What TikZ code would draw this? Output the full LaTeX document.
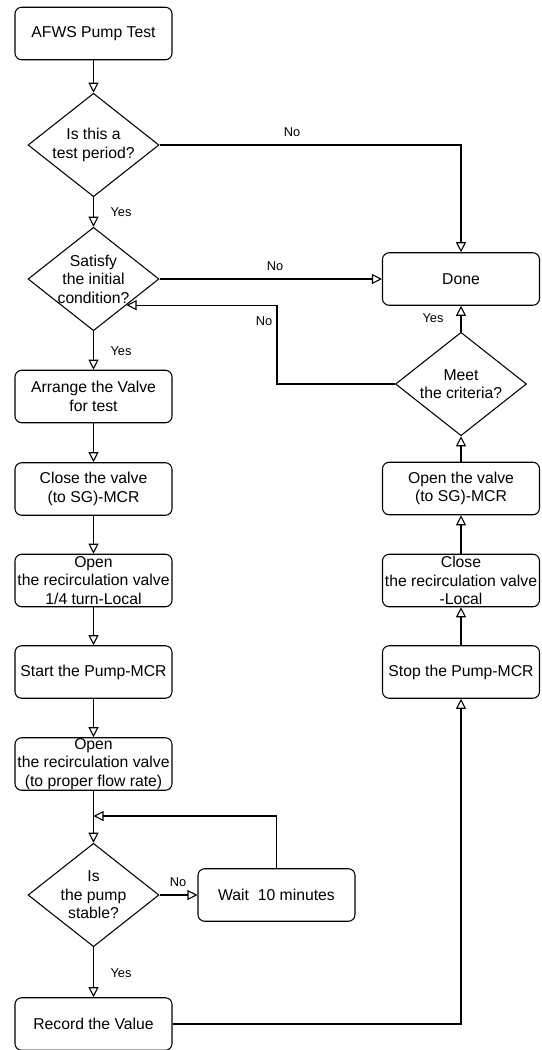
\documentclass[tikz,border=0pt]{standalone}
\usepackage{fontspec}
\setmainfont{Liberation Sans}
\usepackage{tikz}
\usetikzlibrary{shapes.geometric,arrows.meta}

\begin{document}
\begin{tikzpicture}[x=0.75pt,y=0.75pt,yscale=-1,xscale=1,
    every node/.style={font=\fontsize{11.8}{13.9}\selectfont},
    stepbox/.style={draw,rounded corners=5pt,align=center,inner sep=0pt,minimum width=117.75pt,minimum height=39.4pt,line width=0.8pt},
    decision/.style={draw,diamond,aspect=1.27,align=center,inner sep=-4pt,minimum width=98.25pt,minimum height=77.6pt,line width=0.8pt},
    lbl/.style={font=\fontsize{9.6}{11}\selectfont,inner sep=0pt},
    arr/.style={-{Triangle[open,length=7.5pt,width=7.5pt]},line width=0.8pt}]
\useasboundingbox (0,0) rectangle (542,1050);
% left column
\node[stepbox] (start) at (93.5,33.5) {AFWS Pump Test};
\node[decision] (d1) at (93.5,145) {Is this a\\test period?};
\node[decision] (d2) at (93.5,279) {Satisfy\\the initial\\condition?};
\node[stepbox] (arrange) at (93.5,396.5) {Arrange the Valve\\for test};
\node[stepbox] (closev) at (93.5,489) {Close the valve\\(to SG)-MCR};
\node[stepbox] (openr1) at (93.5,580.5) {Open\\the recirculation valve\\1/4 turn-Local};
\node[stepbox] (startp) at (93.5,672) {Start the Pump-MCR};
\node[stepbox] (openr2) at (93.5,764) {Open\\the recirculation valve\\(to proper flow rate)};
\node[decision] (d3) at (93.5,895) {Is\\the pump\\stable?};
\node[stepbox] (wait) at (276.5,895) {Wait\ \ 10 minutes};
\node[stepbox] (record) at (93.5,1024) {Record the Value};
% right column
\node[stepbox] (done) at (461,279) {Done};
\node[decision] (d4) at (461,384) {Meet\\the criteria?};
\node[stepbox] (openv) at (461,488.5) {Open the valve\\(to SG)-MCR};
\node[stepbox] (closer) at (461,580.5) {Close\\the recirculation valve\\-Local};
\node[stepbox] (stopp) at (461,672) {Stop the Pump-MCR};
\coordinate (merge) at (93.5,816);
\coordinate (loop) at (277,0);
% connectors
\draw[arr] (start) -- (d1);
\draw[arr] (d1) -- (d2);
\draw[arr] (d1.east) -| (done.north);
\draw[arr] (d2.east) -- (done.west);
\draw[arr] (d2) -- (arrange);
\draw[arr] (arrange) -- (closev);
\draw[arr] (closev) -- (openr1);
\draw[arr] (openr1) -- (startp);
\draw[arr] (startp) -- (openr2);
\draw[arr] (openr2) -- (d3);
\draw[arr] (wait.north) |- (merge);
\draw[arr] (d3.east) -- (wait.west);
\draw[arr] (d3) -- (record);
\draw[arr] (record.east) -| (stopp.south);
\draw[arr] (stopp) -- (closer);
\draw[arr] (closer) -- (openv);
\draw[arr] (openv) -- (d4);
\draw[arr] (d4) -- (done);
\draw[arr] (d4.west) -| (loop |- d2.south east) -- (d2.south east);
% labels
\node[lbl] (yes1) at (121,212) {Yes};
\node[lbl] (no1) at (292,132) {No};
\node[lbl] (no2) at (275,266) {No};
\node[lbl] (yes2) at (121,351) {Yes};
\node[lbl] (no3) at (264,321) {No};
\node[lbl] (yes4) at (433,318) {Yes};
\node[lbl] (no4) at (178,882) {No};
\node[lbl] (yes3) at (121,973) {Yes};
\end{tikzpicture}
\end{document}
